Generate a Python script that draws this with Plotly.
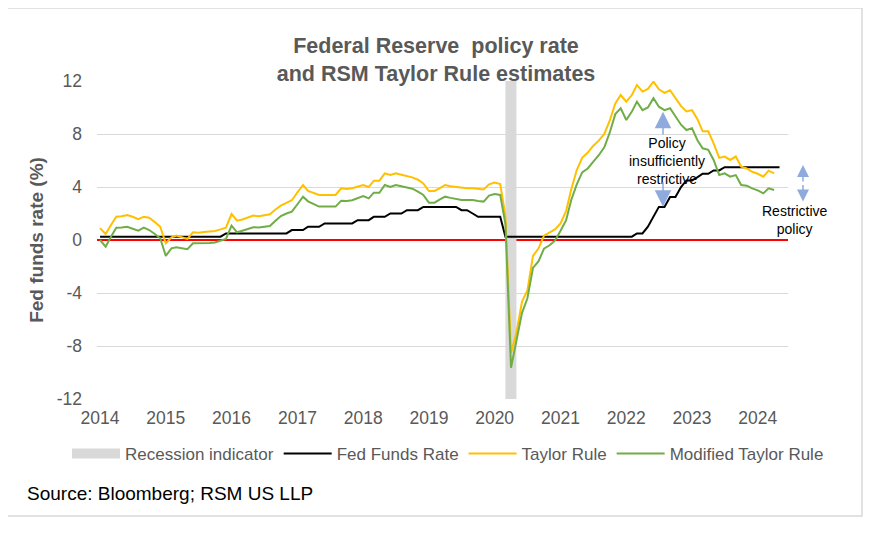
import pandas as pd
import plotly.graph_objects as go

# ---------------- data ----------------
START_MONTH = "2014-01-01"

# Taylor Rule estimate, monthly Jan 2014 .. Apr 2024
TAYLOR = [
    0.9, 0.45, 1.1, 1.76, 1.8, 1.89, 1.75, 1.58, 1.76, 1.68, 1.35, 1.0,        # 2014
    -0.25, 0.2, 0.33, 0.2, 0.08, 0.58, 0.55, 0.6, 0.62, 0.68, 0.8, 0.93,       # 2015
    1.96, 1.46, 1.55, 1.7, 1.84, 1.8, 1.87, 1.94, 2.3, 2.59, 2.8, 3.0,         # 2016
    3.6, 4.15, 3.7, 3.55, 3.4, 3.4, 3.4, 3.4, 3.9, 3.85, 3.9, 4.0,             # 2017
    4.15, 4.0, 4.48, 4.48, 5.03, 4.9, 5.03, 4.93, 4.83, 4.73, 4.55, 4.27,      # 2018
    3.7, 3.7, 3.9, 4.15, 4.05, 4.0, 3.9, 3.9, 3.9, 3.85, 3.82, 4.2,            # 2019
    4.33, 4.22, 1.8, -8.5, -7.0, -4.65, -3.8, -1.2, -0.63, 0.33, 0.55, 0.8,    # 2020
    1.25, 2.2, 3.8, 5.28, 6.2, 6.6, 7.1, 7.5, 8.0, 9.0, 10.3, 10.94,           # 2021
    10.44, 10.94, 11.7, 11.2, 11.4, 11.95, 11.37, 11.1, 11.3, 10.7, 10.1, 9.7, # 2022
    9.8, 9.1, 8.2, 8.2, 7.3, 6.2, 6.3, 6.04, 6.3, 5.53, 5.4, 5.15,             # 2023
    5.0, 4.78, 5.23, 5.03,                                                     # 2024
]

# Modified Taylor Rule estimate, monthly Jan 2014 .. Apr 2024
MODIFIED = [
    0.0, -0.5, 0.2, 0.93, 0.95, 1.0, 0.85, 0.7, 0.93, 0.75, 0.45, 0.13,
    -1.2, -0.63, -0.55, -0.6, -0.7, -0.25, -0.25, -0.25, -0.22, -0.18, -0.05, 0.08,
    1.08, 0.58, 0.7, 0.85, 0.96, 0.95, 1.0, 1.06, 1.45, 1.81, 2.0, 2.14,
    2.7, 3.27, 2.92, 2.7, 2.52, 2.52, 2.52, 2.52, 2.97, 2.95, 3.0, 3.15,
    3.32, 3.14, 3.57, 3.57, 4.15, 4.0, 4.15, 4.05, 3.95, 3.87, 3.65, 3.4,
    2.82, 2.82, 3.05, 3.27, 3.18, 3.12, 3.02, 3.02, 3.02, 2.95, 2.9, 3.35,
    3.47, 3.4, 1.2, -9.64, -7.6, -5.5, -4.4, -2.1, -1.6, -0.65, -0.4, -0.05,
    0.7, 1.5, 3.0, 4.2, 5.1, 5.4, 5.9, 6.4, 7.0, 8.1, 9.5, 9.94,
    9.06, 9.69, 10.44, 9.8, 10.0, 10.7, 10.06, 9.8, 9.94, 9.3, 8.7, 8.3,
    8.43, 7.5, 6.92, 6.8, 6.04, 4.9, 5.03, 4.78, 4.9, 4.15, 4.1, 3.9,
    3.75, 3.52, 3.9, 3.77,
]

# Fed funds rate (upper bound of target range), monthly Jan 2014 .. May 2024
FED_FUNDS = [
    0.25, 0.25, 0.25, 0.25, 0.25, 0.25, 0.25, 0.25, 0.25, 0.25, 0.25, 0.25,    # 2014
    0.25, 0.25, 0.25, 0.25, 0.25, 0.25, 0.25, 0.25, 0.25, 0.25, 0.25, 0.5,     # 2015
    0.5, 0.5, 0.5, 0.5, 0.5, 0.5, 0.5, 0.5, 0.5, 0.5, 0.5, 0.75,               # 2016
    0.75, 0.75, 1.0, 1.0, 1.0, 1.25, 1.25, 1.25, 1.25, 1.25, 1.25, 1.5,        # 2017
    1.5, 1.5, 1.75, 1.75, 1.75, 2.0, 2.0, 2.0, 2.25, 2.25, 2.25, 2.5,          # 2018
    2.5, 2.5, 2.5, 2.5, 2.5, 2.5, 2.25, 2.25, 2.0, 1.75, 1.75, 1.75,           # 2019
    1.75, 1.75, 0.25, 0.25, 0.25, 0.25, 0.25, 0.25, 0.25, 0.25, 0.25, 0.25,    # 2020
    0.25, 0.25, 0.25, 0.25, 0.25, 0.25, 0.25, 0.25, 0.25, 0.25, 0.25, 0.25,    # 2021
    0.25, 0.25, 0.5, 0.5, 1.0, 1.75, 2.5, 2.5, 3.25, 3.25, 4.0, 4.5,           # 2022
    4.5, 4.75, 5.0, 5.0, 5.25, 5.25, 5.5, 5.5, 5.5, 5.5, 5.5, 5.5,             # 2023
    5.5, 5.5, 5.5, 5.5, 5.5,                                                   # 2024
]

# recession indicator: Mar 2020 - Apr 2020 (band spans the full value axis)
RECESSION_START = "2020-03-01"
RECESSION_END = "2020-05-01"
RECESSION_SPAN = [-12, 12]

Y_TICKS = [-12, -8, -4, 0, 4, 8, 12]
Y_TICK_LABELS = ["-12", "-8", "-4", "0", "4", "8", "12"]

X_RANGE = ["2013-12-15", "2024-06-17"]

# ---------------- figure ----------------
taylor_dates = pd.date_range(START_MONTH, periods=len(TAYLOR), freq="MS")
modified_dates = pd.date_range(START_MONTH, periods=len(MODIFIED), freq="MS")
fed_dates = pd.date_range(START_MONTH, periods=len(FED_FUNDS), freq="MS")
rec_start, rec_end = pd.Timestamp(RECESSION_START), pd.Timestamp(RECESSION_END)
rec_mid = rec_start + (rec_end - rec_start) / 2

GREY = "#595959"
FONT = "Liberation Sans, Arial, Helvetica, sans-serif"

# the page body has an 8px margin, so the figure is 8px smaller than the window
W, H = 864, 527
PL, PT, PW, PH = 89, 73, 691, 318          # plot area in figure pixels
DAYS_PX = PW / (pd.Timestamp(X_RANGE[1]) - pd.Timestamp(X_RANGE[0])).days
band_px = (rec_end - rec_start).days * DAYS_PX


def px_x(screen_x):
    return (screen_x - 8 - PL) / PW


def px_y(screen_y):
    return (PT + PH - (screen_y - 8)) / PH


fig = go.Figure()

fig.add_trace(go.Scatter(
    x=[rec_mid, rec_mid], y=RECESSION_SPAN, mode="lines",
    line=dict(color="#D9D9D9", width=band_px),
    name="Recession indicator", hoverinfo="skip",
))
fig.add_trace(go.Scatter(x=fed_dates, y=FED_FUNDS, mode="lines",
                         line=dict(color="#000000", width=2), name="Fed Funds Rate"))
fig.add_trace(go.Scatter(x=taylor_dates, y=TAYLOR, mode="lines",
                         line=dict(color="#FFC000", width=2), name="Taylor Rule"))
fig.add_trace(go.Scatter(x=modified_dates, y=MODIFIED, mode="lines",
                         line=dict(color="#70AD47", width=2), name="Modified Taylor Rule"))

ARROW = "#8FAADC"
HEAD_STYLE = 2
HEAD = 2.2          # policy arrows
HEAD_SMALL = 1.6    # short restrictive-policy arrows
annotations = [
    dict(text="Source: Bloomberg; RSM US LLP", xref="paper", yref="paper",
         x=px_x(25), y=px_y(493), xanchor="left", yanchor="middle",
         showarrow=False, font=dict(size=19, color="#000000")),
    dict(text="Policy<br>insufficiently<br>restrictive", xref="x", yref="y",
         x="2022-08-17", y=6.0, xanchor="center", yanchor="middle",
         showarrow=False, font=dict(size=14, color="#000000")),
    dict(text="", xref="x", yref="y", x="2022-07-24", y=9.68,
         axref="x", ayref="y", ax="2022-07-24", ay=7.85,
         showarrow=True, arrowhead=HEAD_STYLE, arrowsize=HEAD, arrowwidth=1.5,
         arrowcolor=ARROW, standoff=0),
    dict(text="", xref="x", yref="y", x="2022-07-24", y=2.51,
         axref="x", ayref="y", ax="2022-07-24", ay=4.47,
         showarrow=True, arrowhead=HEAD_STYLE, arrowsize=HEAD, arrowwidth=1.5,
         arrowcolor=ARROW, standoff=0),
    dict(text="", xref="paper", yref="y", x=px_x(803), y=5.66,
         ax=0, ay=18, showarrow=True,
         arrowhead=HEAD_STYLE, arrowsize=HEAD_SMALL, arrowwidth=1.5,
         arrowcolor=ARROW, standoff=0),
    dict(text="", xref="paper", yref="y", x=px_x(803), y=2.9,
         ax=0, ay=-18, showarrow=True,
         arrowhead=HEAD_STYLE, arrowsize=HEAD_SMALL, arrowwidth=1.5,
         arrowcolor=ARROW, standoff=0),
    dict(text="Restrictive<br>policy", xref="paper", yref="y",
         x=px_x(795), y=1.52, xanchor="center", yanchor="middle",
         showarrow=False, font=dict(size=14, color="#000000")),
]

fig.update_layout(
    width=W, height=H,
    paper_bgcolor="white", plot_bgcolor="white",
    margin=dict(l=PL, r=W - PL - PW, t=PT, b=H - PT - PH, autoexpand=False),
    font=dict(family=FONT, color=GREY),
    title=dict(text="<b>Federal Reserve  policy rate<br>and RSM Taylor Rule estimates</b>",
               xref="container", x=(436 - 8) / W, xanchor="center",
               yref="container", y=1 - (53 - 8) / H, yanchor="middle",
               font=dict(size=21.5, color=GREY)),
    showlegend=True,
    legend=dict(orientation="h", xref="paper", x=px_x(67), xanchor="left",
                yref="paper", y=px_y(454), yanchor="middle",
                font=dict(size=17, color=GREY), itemwidth=48,
                traceorder="normal", bgcolor="rgba(0,0,0,0)"),
    xaxis=dict(type="date", range=X_RANGE, tick0=START_MONTH, dtick="M12",
               tickformat="%Y", showgrid=False, zeroline=False, showline=False,
               ticks="", tickfont=dict(size=17.5, color=GREY), ticklabelstandoff=6),
    yaxis=dict(range=[-12, 12], tickmode="array", tickvals=Y_TICKS, ticktext=Y_TICK_LABELS,
               showgrid=True, gridcolor="#D9D9D9", gridwidth=1.3,
               zeroline=True, zerolinecolor="#FF0000", zerolinewidth=2,
               showline=False, ticks="", tickfont=dict(size=17.5, color=GREY),
               ticklabelstandoff=14,
               title=dict(text="<b>Fed funds rate (%)</b>", standoff=8,
                          font=dict(size=19, color=GREY))),
    annotations=annotations,
    shapes=[dict(type="rect", xref="paper", yref="paper",
                 x0=px_x(7), x1=px_x(862), y0=px_y(516), y1=px_y(8),
                 line=dict(color="#D9D9D9", width=1.5), fillcolor="rgba(0,0,0,0)",
                 layer="below")],
)

fig.write_html("out.html")
